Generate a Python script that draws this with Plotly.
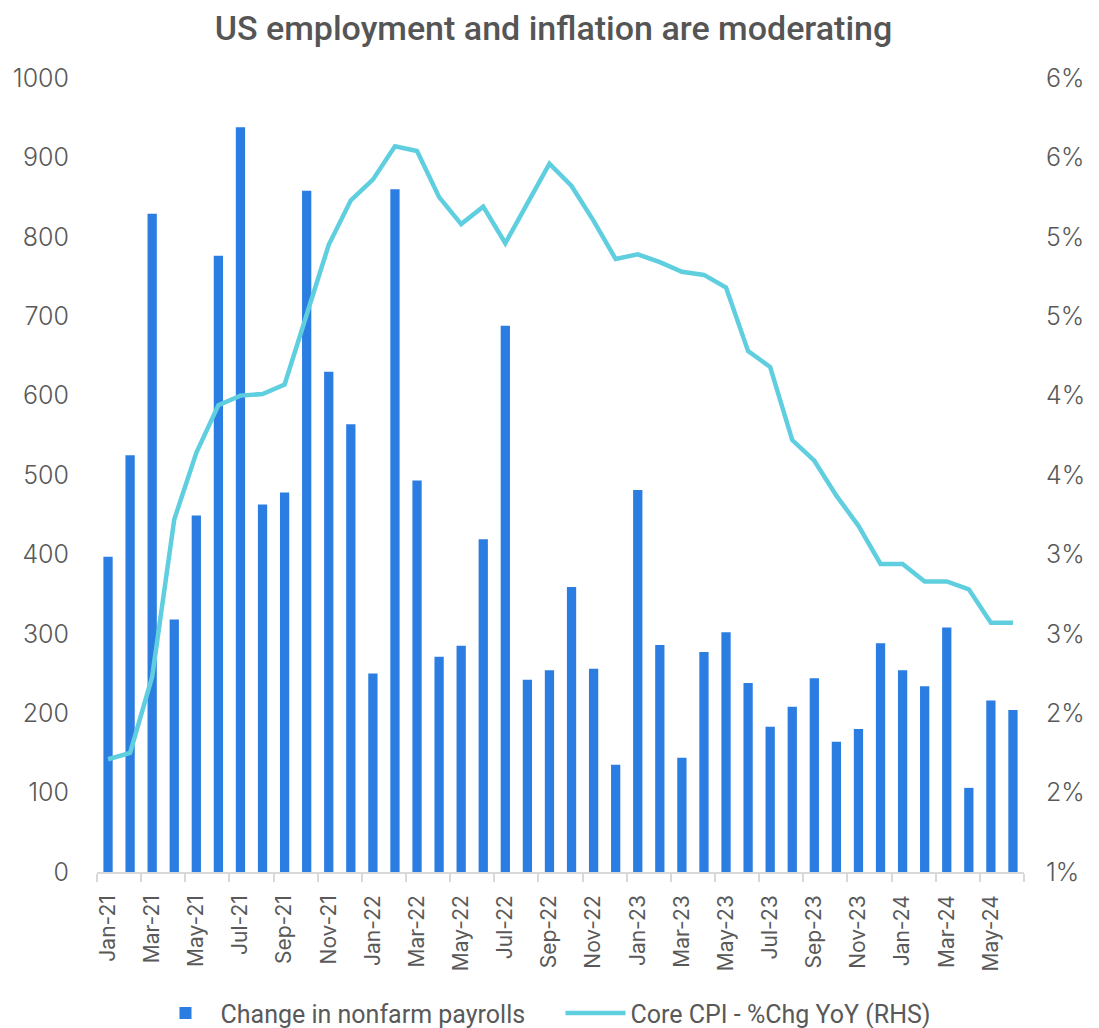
import plotly.graph_objects as go

months = ["Jan-21","Feb-21","Mar-21","Apr-21","May-21","Jun-21","Jul-21","Aug-21","Sep-21","Oct-21","Nov-21","Dec-21",
          "Jan-22","Feb-22","Mar-22","Apr-22","May-22","Jun-22","Jul-22","Aug-22","Sep-22","Oct-22","Nov-22","Dec-22",
          "Jan-23","Feb-23","Mar-23","Apr-23","May-23","Jun-23","Jul-23","Aug-23","Sep-23","Oct-23","Nov-23","Dec-23",
          "Jan-24","Feb-24","Mar-24","Apr-24","May-24","Jun-24"]

payrolls = [397, 525, 829, 318, 449, 776, 938, 463, 478, 858, 630, 564,
            250, 860, 493, 271, 285, 419, 688, 242, 254, 359, 256, 135,
            481, 286, 144, 277, 302, 238, 183, 208, 244, 164, 180, 288,
            254, 234, 308, 106, 216, 204]

core_cpi = [1.71, 1.75, 2.23, 3.22, 3.64, 3.94, 4.00, 4.01, 4.07, 4.50, 4.95, 5.23,
            5.36, 5.57, 5.54, 5.25, 5.08, 5.19, 4.96, 5.21, 5.46, 5.32, 5.10, 4.86,
            4.89, 4.84, 4.78, 4.76, 4.68, 4.28, 4.18, 3.72, 3.59, 3.37, 3.18, 2.94,
            2.94, 2.83, 2.83, 2.78, 2.57, 2.57]

left_ticks = [0, 100, 200, 300, 400, 500, 600, 700, 800, 900, 1000]
right_tickvals = [1.0, 1.5, 2.0, 2.5, 3.0, 3.5, 4.0, 4.5, 5.0, 5.5, 6.0]
right_ticktext = ["1%", "2%", "2%", "3%", "3%", "4%", "4%", "5%", "5%", "6%", "6%"]

FONT = "Inter"
GREY = "#595959"

fig = go.Figure()
fig.add_trace(go.Bar(
    x=months, y=payrolls, name="Change in nonfarm payrolls",
    marker=dict(color="#2B7DE1", line=dict(width=0)),
    yaxis="y",
))
fig.add_trace(go.Scatter(
    x=months, y=core_cpi, name="Core CPI - %Chg YoY (RHS)",
    mode="lines", line=dict(color="#5FCFDF", width=4.5),
    yaxis="y2",
))

fig.update_layout(
    width=1091, height=1020,
    paper_bgcolor="white", plot_bgcolor="white",
    margin=dict(l=89, r=75, t=70, b=156, autoexpand=False),
    title=dict(text="US employment and inflation are moderating",
               x=0.5, xanchor="center", y=0.98, yanchor="middle",
               font=dict(family="Roboto", size=34, color="#555555", weight=500)),
    bargap=0.58,
    font=dict(family=FONT, color=GREY, size=19),
    xaxis=dict(type="category", tickangle=-90, dtick=2, tickson="boundaries",
               ticks="outside", ticklen=8, tickcolor="#d9d9d9", tickwidth=1.5,
               showline=True, linecolor="#d9d9d9", linewidth=1.5,
               showgrid=False, tickfont=dict(size=21, color=GREY),
               ticklabelstandoff=13,
               range=[-0.5, 41.5], automargin=False),
    yaxis=dict(range=[0, 1000], tickvals=left_ticks, showgrid=False, zeroline=False,
               tickfont=dict(size=25, color=GREY, weight=300), ticks="",
               ticklabelstandoff=27, automargin=False),
    yaxis2=dict(range=[1, 6], overlaying="y", side="right", tickvals=right_tickvals,
                ticktext=right_ticktext, showgrid=False, zeroline=False,
                tickfont=dict(size=25, color=GREY, weight=300), ticks="",
                ticklabelstandoff=21, automargin=False),
    legend=dict(orientation="h", x=0.5, xanchor="center", y=-0.178, yanchor="middle",
                font=dict(family="Roboto", size=25, color=GREY), itemwidth=60,
                entrywidth=335, entrywidthmode="pixels",
                traceorder="normal"),
    showlegend=True,
)

fig.write_html("out.html")
